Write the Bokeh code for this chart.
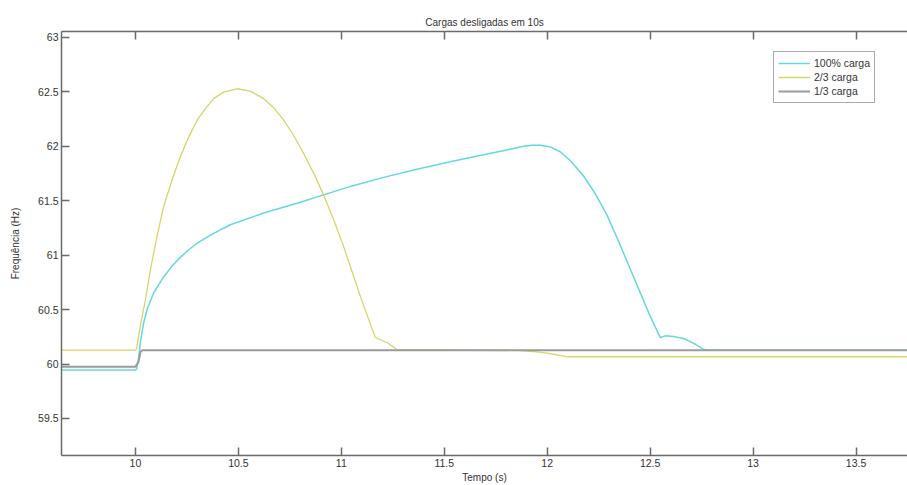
from bokeh.plotting import figure
from bokeh.models import Range1d, LinearAxis, FixedTicker, Legend, LegendItem
from bokeh.embed import file_html
from bokeh.resources import INLINE

title_text = "Cargas desligadas em 10s"
x_label = "Tempo (s)"
y_label = "Frequência (Hz)"
series_names = ["100% carga", "2/3 carga", "1/3 carga"]

# 100% carga
t_full = [9.641, 10.0, 10.005, 10.016, 10.024, 10.04, 10.057, 10.089, 10.137, 10.178,
          10.218, 10.259, 10.30, 10.38, 10.461, 10.623, 10.785, 10.914, 11.044, 11.205,
          11.367, 11.529, 11.69, 11.804, 11.885, 11.926, 11.966, 12.015, 12.063, 12.112,
          12.176, 12.233, 12.29, 12.346, 12.403, 12.451, 12.50, 12.549, 12.573, 12.613,
          12.662, 12.71, 12.759, 12.78, 13.75]
f_full = [59.945, 59.945, 59.95, 60.06, 60.198, 60.38, 60.503, 60.655, 60.80, 60.90,
          60.98, 61.05, 61.11, 61.20, 61.28, 61.387, 61.478, 61.554, 61.632, 61.715,
          61.79, 61.858, 61.922, 61.967, 62.0, 62.011, 62.011, 61.995, 61.95, 61.87,
          61.73, 61.565, 61.37, 61.13, 60.875, 60.66, 60.44, 60.244, 60.259, 60.253,
          60.235, 60.192, 60.137, 60.128, 60.128]

# 2/3 carga
t_two = [9.641, 10.0, 10.005, 10.024, 10.049, 10.073, 10.105, 10.137, 10.178, 10.218,
         10.259, 10.30, 10.34, 10.38, 10.429, 10.494, 10.558, 10.623, 10.671, 10.72,
         10.768, 10.817, 10.866, 10.914, 10.963, 11.011, 11.06, 11.092, 11.165, 11.222,
         11.27, 11.87, 11.95, 12.0, 12.10, 13.75]
f_two = [60.128, 60.128, 60.137, 60.35, 60.594, 60.868, 61.173, 61.447, 61.691, 61.904,
         62.087, 62.24, 62.346, 62.438, 62.498, 62.529, 62.507, 62.438, 62.356, 62.24,
         62.102, 61.935, 61.752, 61.554, 61.325, 61.081, 60.807, 60.624, 60.244, 60.198,
         60.133, 60.124, 60.112, 60.10, 60.067, 60.067]

# 1/3 carga
t_one = [9.641, 10.0, 10.015, 10.025, 10.035, 13.75]
f_one = [59.975, 59.975, 60.02, 60.115, 60.128, 60.128]

x_ticks = [10, 10.5, 11, 11.5, 12, 12.5, 13, 13.5]
x_tick_labels = ["10", "10.5", "11", "11.5", "12", "12.5", "13", "13.5"]
y_ticks = [59.5, 60, 60.5, 61, 61.5, 62, 62.5, 63]
y_tick_labels = ["59.5", "60", "60.5", "61", "61.5", "62", "62.5", "63"]

FONT = "Liberation Sans"
TXT = "#333333"
AX = "#6a6a6a"

p = figure(width=907, height=485, output_backend="svg", toolbar_location=None,
           x_range=Range1d(9.641, 13.75), y_range=Range1d(59.16, 63.055),
           min_border_left=61, min_border_right=0, min_border_top=31, min_border_bottom=0,
           title=title_text)
p.title.align = "center"
p.title.text_font = FONT
p.title.text_font_size = "10px"
p.title.text_font_style = "normal"
p.title.text_color = TXT
p.title.standoff = 8
p.outline_line_color = None
p.grid.visible = False
p.background_fill_color = "white"
p.border_fill_color = "white"

def style_axis(ax, ticks, labels):
    ax.ticker = FixedTicker(ticks=ticks)
    ax.major_label_overrides = {t: l for t, l in zip(ticks, labels)}
    ax.axis_line_color = AX
    ax.axis_line_width = 1.5
    ax.major_tick_line_color = AX
    ax.major_tick_line_width = 1.5
    ax.major_tick_in = 8
    ax.major_tick_out = 0
    ax.minor_tick_line_color = None
    ax.major_label_text_font = FONT
    ax.major_label_text_font_size = "10.5px"
    ax.major_label_text_color = TXT
    ax.major_label_standoff = 3
    ax.axis_label_text_font = FONT
    ax.axis_label_text_font_size = "10px"
    ax.axis_label_text_font_style = "normal"
    ax.axis_label_text_color = TXT

style_axis(p.xaxis[0], x_ticks, x_tick_labels)
style_axis(p.yaxis[0], y_ticks, y_tick_labels)
p.xaxis[0].axis_label = x_label
p.xaxis[0].axis_label_standoff = 2
p.yaxis[0].axis_label = y_label
p.yaxis[0].axis_label_standoff = 14

top = LinearAxis()
style_axis(top, x_ticks, x_tick_labels)
top.major_label_text_font_size = "0px"
top.major_label_standoff = 0
top.major_label_overrides = {t: "" for t in x_ticks}
p.add_layout(top, "above")

r1 = p.line(t_full, f_full, line_color="#62d9dd", line_width=1.5)
r2 = p.line(t_two, f_two, line_color="#d9d46a", line_width=1.3)
r3 = p.line(t_one, f_one, line_color="#9b9b9b", line_width=2)

legend = Legend(items=[LegendItem(label=series_names[0], renderers=[r1]),
                       LegendItem(label=series_names[1], renderers=[r2]),
                       LegendItem(label=series_names[2], renderers=[r3])],
                location=(712, 352))
legend.label_text_font = FONT
legend.label_text_font_size = "10.5px"
legend.label_text_color = TXT
legend.glyph_width = 32
legend.glyph_height = 14
legend.label_height = 14
legend.label_standoff = 4
legend.spacing = 0
legend.padding = 4
legend.margin = 0
legend.border_line_color = "#555555"
legend.border_line_width = 1
legend.background_fill_color = "white"
legend.background_fill_alpha = 1
p.add_layout(legend, "center")

open("out.html", "w").write(file_html(p, INLINE))
